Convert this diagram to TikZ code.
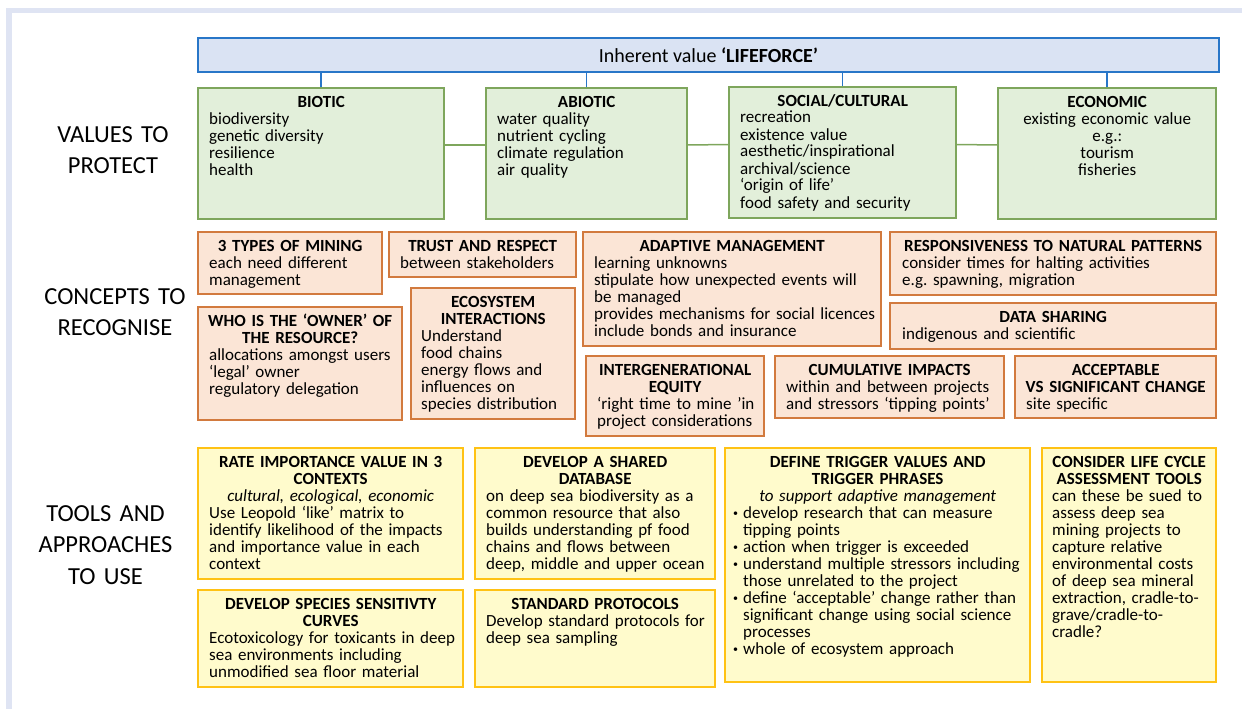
\documentclass[tikz,border=0pt]{standalone}
\usepackage{fontspec}
\setmainfont{Carlito}
\definecolor{framec}{RGB}{223,228,243}
\definecolor{bluefill}{RGB}{218,227,243}
\definecolor{blueline}{RGB}{40,118,200}
\definecolor{greenfill}{RGB}{226,239,218}
\definecolor{greenline}{RGB}{126,166,92}
\definecolor{orangefill}{RGB}{251,229,214}
\definecolor{orangeline}{RGB}{210,122,62}
\definecolor{yellowfill}{RGB}{255,251,204}
\definecolor{yellowline}{RGB}{255,194,20}
\newcommand\bodyfont{\fontsize{17}{17}\selectfont\hyphenpenalty=10000 }
\newcommand\ttl[1]{\makebox[\tw pt][c]{\bfseries #1}\par}
\newcommand\ctr[1]{\makebox[\tw pt][c]{#1}\par}
\newcommand\bul{\makebox[10pt][l]{\raisebox{1.5pt}{\fontsize{10}{10}\selectfont •}}}
\newcommand\ind{\hspace*{10pt}}
\newcommand\mybox[8]{%
  \pgfmathsetmacro\bw{#5-#3}\pgfmathsetmacro\bh{#6-#4}\pgfmathsetmacro\tw{#5-#3-2*#7}\pgfmathsetmacro\ww{#5-#3-2*#7+150}%
  \node[#2, minimum width=\bw pt, minimum height=\bh pt] (#1) at ({(#3+#5)/2},{(#4+#6)/2}) {};%
  \node[txt, text width=\ww pt] (#1-t) at ({#3+#7},{#4+19}) {#8};%
}
\begin{document}
\begin{tikzpicture}[x=1pt,y=-1pt,
  boxbase/.style={draw, inner sep=0pt, line width=1.5pt},
  bluebox/.style={boxbase, fill=bluefill, draw=blueline, line width=2pt},
  greenbox/.style={boxbase, fill=greenfill, draw=greenline},
  orangebox/.style={boxbase, fill=orangefill, draw=orangeline},
  yellowbox/.style={boxbase, fill=yellowfill, draw=yellowline},
  txt/.style={anchor=base west, inner sep=0pt, align=left, font=\bodyfont},
  lbl/.style={anchor=base, inner sep=0pt, text width=200pt, align=center, font=\fontsize{24.5}{31.5}\selectfont},
  bconn/.style={draw=blueline, line width=1.5pt},
  gconn/.style={draw=greenline, line width=1.5pt}]
\useasboundingbox (0,0) rectangle (1242,709);
\fill[framec] (6,8) rectangle (1242,13);
\fill[framec] (6,8) rectangle (12,709);

% top box
\node[bluebox, minimum width=1021pt, minimum height=34pt, font=\fontsize{20}{20}\selectfont] (life) at (708.5,55) {Inherent value \textbf{‘LIFEFORCE’}};

% left labels
\node[lbl] (lab1) at (113,142) {VALUES TO\\PROTECT};
\node[lbl] (lab2) at (115,304) {CONCEPTS TO\\RECOGNISE};
\node[lbl] (lab3) at (105.5,521) {TOOLS AND\\APPROACHES\\TO USE};

% values
\mybox{biotic}{greenbox}{198}{88}{444}{219}{11}{\ttl{BIOTIC}biodiversity\\genetic diversity\\resilience\\health}
\mybox{abiotic}{greenbox}{486}{88}{687}{219}{11}{\ttl{ABIOTIC}water quality\\nutrient cycling\\climate regulation\\air quality}
\mybox{social}{greenbox}{729}{87}{956}{218}{11}{\ttl{SOCIAL/CULTURAL}recreation\\existence value\\aesthetic/inspirational\\archival/science\\‘origin of life’\\food safety and security}
\mybox{economic}{greenbox}{998}{88}{1216}{219}{11}{\ttl{ECONOMIC}\ctr{existing economic value}\ctr{e.g.:}\ctr{tourism}\ctr{fisheries}}

\draw[bconn] (biotic.north) -- (biotic.north |- life.south);
\draw[bconn] (abiotic.north) -- (abiotic.north |- life.south);
\draw[bconn] (social.north) -- (social.north |- life.south);
\draw[bconn] (economic.north) -- (economic.north |- life.south);
\draw[gconn] ([yshift=8.5pt]biotic.east) -- ([yshift=8.5pt]abiotic.west);
\draw[gconn] ([yshift=8.5pt]abiotic.east) -- ([yshift=8pt]social.west);
\draw[gconn] ([yshift=8pt]social.east) -- ([yshift=8.5pt]economic.west);

% concepts
\mybox{mining}{orangebox}{198}{232}{382}{294}{11}{\ttl{3 TYPES OF MINING}each need different\\management}
\mybox{trust}{orangebox}{389}{232}{576}{277}{11}{\ttl{TRUST AND RESPECT}between stakeholders}
\mybox{owner}{orangebox}{198}{307}{402}{420}{11}{\ttl{WHO IS THE ‘OWNER’ OF}\ttl{THE RESOURCE?}allocations amongst users\\‘legal’ owner\\regulatory delegation}
\mybox{ecosys}{orangebox}{411}{288}{575}{419}{10}{\ttl{ECOSYSTEM}\ttl{INTERACTIONS}Understand\\food chains\\energy flows and\\influences on\\species distribution}
\mybox{adaptive}{orangebox}{583}{232}{881}{346}{11}{\ttl{ADAPTIVE MANAGEMENT}learning unknowns\\stipulate how unexpected events will\\be managed\\provides mechanisms for social licences\\include bonds and insurance}
\mybox{respons}{orangebox}{890}{232}{1216}{295}{12}{\ttl{RESPONSIVENESS TO NATURAL PATTERNS}consider times for halting activities\\e.g.\ spawning, migration}
\mybox{datashare}{orangebox}{890}{303}{1216}{349}{12}{\ttl{DATA SHARING}indigenous and scientific}
\mybox{intergen}{orangebox}{586}{356}{764}{436}{11}{\ttl{INTERGENERATIONAL}\ttl{EQUITY}‘right time to mine ’in\\project considerations}
\mybox{cumul}{orangebox}{775}{356}{1004}{418}{11}{\ttl{CUMULATIVE IMPACTS}within and between projects\\and stressors ‘tipping points’}
\mybox{accept}{orangebox}{1015}{356}{1216}{418}{11}{\ttl{ACCEPTABLE}\ttl{VS SIGNIFICANT CHANGE}site specific}

% tools
\mybox{rate}{yellowbox}{198}{448}{463}{579}{11}{\ttl{RATE IMPORTANCE VALUE IN 3}\ttl{CONTEXTS}\ctr{\itshape cultural, ecological, economic}Use Leopold ‘like’ matrix to\\identify likelihood of the impacts\\and importance value in each\\context}
\mybox{shared}{yellowbox}{475}{448}{715}{579}{11}{\ttl{DEVELOP A SHARED}\ttl{DATABASE}on deep sea biodiversity as a\\common resource that also\\builds understanding pf food\\chains and flows between\\deep, middle and upper ocean}
\mybox{sensit}{yellowbox}{198}{590}{463}{687}{11}{\ttl{DEVELOP SPECIES SENSITIVTY}\ttl{CURVES}Ecotoxicology for toxicants in deep\\sea environments including\\unmodified sea floor material}
\mybox{standard}{yellowbox}{475}{590}{715}{687}{11}{\ttl{STANDARD PROTOCOLS}Develop standard protocols for\\deep sea sampling}
\mybox{trigger}{yellowbox}{725}{448}{1030}{682}{8}{\ttl{DEFINE TRIGGER VALUES AND}\ttl{TRIGGER PHRASES}\ctr{\itshape to support adaptive management}\bul develop research that can measure\\\ind tipping points\\\bul action when trigger is exceeded\\\bul understand multiple stressors including\\\ind those unrelated to the project\\\bul define ‘acceptable’ change rather than\\\ind significant change using social science\\\ind processes\\\bul whole of ecosystem approach}
\mybox{lifecycle}{yellowbox}{1042}{448}{1216}{682}{10}{\ttl{CONSIDER LIFE CYCLE}\ttl{ASSESSMENT TOOLS}can these be sued to\\assess deep sea\\mining projects to\\capture relative\\environmental costs\\of deep sea mineral\\extraction, cradle-to-\\grave/cradle-to-\\cradle?}
\end{tikzpicture}
\end{document}
